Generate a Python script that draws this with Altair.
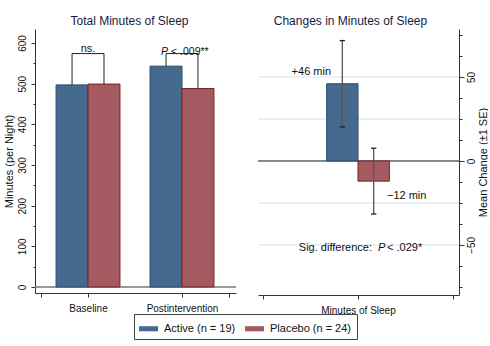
import altair as alt
import pandas as pd

FONT = "Liberation Sans"
TEXT = "#111111"
TITLE_COLOR = "#1a1a3e"
AXIS_COLOR = "#333333"

# ---------------- data ----------------
groups = ["Active (n = 19)", "Placebo (n = 24)"]
fill_colors = ["#466a8d", "#a35b61"]
stroke_colors = ["#2a4a6c", "#7d1f27"]

timepoints = ["Baseline", "Postintervention"]
active_minutes = [497, 543]
placebo_minutes = [499, 488]
bracket_top = [574, 574]

change_category = "Minutes of Sleep"
change_mean = [46, -12]
change_se = [25.7, 19.6]
change_labels = ["+46 min", "\u221212 min"]

left_ticks = list(range(0, 650, 50))
right_ticks = [v / 2 for v in range(-150, 151, 25)]
right_grid = [-50, -25, 25, 50]

# ---------------- left panel tables ----------------
BW = 0.68
bars_l, brackets = [], []
for i, tp in enumerate(timepoints):
    c = 1 + 2 * i
    a, p = active_minutes[i], placebo_minutes[i]
    bars_l.append(dict(grp=groups[0], x=c - BW, x2=c, y=0, y2=a))
    bars_l.append(dict(grp=groups[1], x=c, x2=c + BW, y=0, y2=p))
    ca, cp = c - BW / 2, c + BW / 2
    top = bracket_top[i]
    brackets += [dict(x=ca, x2=cp, y=top, y2=top),
                 dict(x=ca, x2=ca, y=a, y2=top),
                 dict(x=cp, x2=cp, y=p, y2=top)]
bars_l = pd.DataFrame(bars_l)
brackets = pd.DataFrame(brackets)

color_scale = alt.Scale(domain=groups, range=fill_colors)
stroke_scale = alt.Scale(domain=groups, range=stroke_colors)

legend = alt.Legend(
    orient="none", legendX=99, legendY=285, direction="horizontal", title=None,
    symbolType="M-1,-0.27L1,-0.27L1,0.27L-1,0.27Z", symbolSize=361,
    symbolStrokeWidth=0, labelFont=FONT, labelFontSize=11, labelColor=TEXT,
    columnPadding=9, labelOffset=6, padding=5, strokeColor="#444444",
    fillColor="white", symbolOpacity=1,
)

lx_expr = (f"datum.value == 1 ? '{timepoints[0]}' : "
           f"datum.value == 3 ? '{timepoints[1]}' : ''")

left_x = alt.X("x:Q", title=None,
               scale=alt.Scale(domain=[-0.128, 4.149], nice=False, zero=False),
               axis=alt.Axis(values=[0, 1, 3, 4], labelExpr=lx_expr, grid=False,
                             tickSize=4, labelPadding=6, labelFontSize=10,
                             labelFont=FONT, labelColor=TEXT, domainColor=AXIS_COLOR,
                             tickColor=AXIS_COLOR, labelFlush=False))
left_y = alt.Y("y:Q", title="Minutes (per Night)",
               scale=alt.Scale(domain=[-14.75, 634.4], nice=False, zero=False),
               axis=alt.Axis(values=left_ticks,
                             labelExpr="datum.value % 100 === 0 ? datum.label : ''",
                             tickSize={"condition": {"test": "datum.value % 100 === 0", "value": 4}, "value": 2},
                             labelAngle=270, labelAlign="center", labelBaseline="bottom",
                             labelPadding=4, labelFontSize=10, labelFont=FONT,
                             labelColor=TEXT, grid=False, domainColor=AXIS_COLOR,
                             tickColor=AXIS_COLOR, titleFont=FONT, titleFontSize=11,
                             titleFontWeight="normal", titleColor=TEXT, titlePadding=3,
                             labelFlush=False))

zero_l = alt.Chart(pd.DataFrame({"y": [0]})).mark_rule(color="#777777", strokeWidth=1.5).encode(y=left_y)
bar_l = alt.Chart(bars_l).mark_bar(strokeWidth=1, opacity=1).encode(
    x=left_x, x2="x2:Q", y=left_y, y2="y2:Q",
    fill=alt.Fill("grp:N", scale=color_scale, legend=legend),
    stroke=alt.Stroke("grp:N", scale=stroke_scale, legend=None),
)
br_l = alt.Chart(brackets).mark_rule(color="#222222", strokeWidth=1).encode(
    x=left_x, x2="x2:Q", y=left_y, y2="y2:Q")
ns_df = pd.DataFrame({"x": [1], "y": [bracket_top[0]], "t": ["ns."]})
ns_t = alt.Chart(ns_df).mark_text(font=FONT, fontSize=11, baseline="alphabetic", dy=-2,
                                  color=TEXT).encode(x=left_x, y=left_y, text="t:N")
p_df = pd.DataFrame({"x": [3], "y": [bracket_top[1]], "a": ["P"], "b": ["< .009**"]})
p_a = alt.Chart(p_df).mark_text(font=FONT, fontSize=10.5, fontStyle="italic", align="right",
                                baseline="alphabetic", dx=-14, dy=1, color=TEXT).encode(
    x=left_x, y=left_y, text="a:N")
p_b = alt.Chart(p_df).mark_text(font=FONT, fontSize=10.5, align="left",
                                baseline="alphabetic", dx=-11, dy=1, color=TEXT).encode(
    x=left_x, y=left_y, text="b:N")

left = alt.layer(zero_l, bar_l, br_l, ns_t, p_a, p_b).properties(
    width=201, height=264,
    title=alt.TitleParams("Total Minutes of Sleep", fontSize=12, fontWeight="normal",
                          font=FONT, color=TITLE_COLOR, frame="group", anchor="middle",
                          dx=-6, offset=-7.5, baseline="alphabetic"))

# ---------------- right panel tables ----------------
BW2 = 0.33
CAP = 0.028
bars_r, err_r, caps_r = [], [], []
for j, g in enumerate(groups):
    x0, x1 = (1 - BW2, 1) if j == 0 else (1, 1 + BW2)
    cx = (x0 + x1) / 2
    m, s = change_mean[j], change_se[j]
    bars_r.append(dict(grp=g, x=x0, x2=x1, y=0, y2=m))
    err_r.append(dict(x=cx, y=m - s, y2=m + s))
    caps_r += [dict(x=cx - CAP, x2=cx + CAP, y=m - s), dict(x=cx - CAP, x2=cx + CAP, y=m + s)]
bars_r = pd.DataFrame(bars_r)
err_r = pd.DataFrame(err_r)
caps_r = pd.DataFrame(caps_r)

rx_expr = f"datum.value == 1 ? '{change_category}' : ''"
right_x = alt.X("x:Q", title=None,
                scale=alt.Scale(domain=[-0.0526, 2.063], nice=False, zero=False),
                axis=alt.Axis(values=[0, 1, 2], labelExpr=rx_expr, grid=False,
                              tickSize=4, labelPadding=6, labelFontSize=10,
                              labelFont=FONT, labelColor=TEXT, domainColor=AXIS_COLOR,
                              tickColor=AXIS_COLOR, labelFlush=False))
right_y = alt.Y("y:Q", title="Mean Change (\u00b11 SE)",
                scale=alt.Scale(domain=[-79.8, 78.6], nice=False, zero=False),
                axis=alt.Axis(orient="right", values=right_ticks,
                              labelExpr="datum.value % 50 === 0 ? datum.label : ''",
                              tickSize={"condition": {"test": "datum.value % 50 === 0", "value": 5}, "value": 3},
                              labelAngle=270, labelAlign="center", labelBaseline="top",
                              labelPadding=2, labelFontSize=10, labelFont=FONT,
                              labelColor=TEXT, grid=False,
                              domainColor=AXIS_COLOR, tickColor=AXIS_COLOR,
                              titleFont=FONT, titleFontSize=11, titleFontWeight="normal",
                              titleColor=TEXT, titleAngle=270, titleBaseline="top",
                              titlePadding=1, labelFlush=False))

grid_r = alt.Chart(pd.DataFrame({"y": right_grid})).mark_rule(color="#d6e3ea", strokeWidth=1).encode(y=right_y)
zero_r = alt.Chart(pd.DataFrame({"y": [0]})).mark_rule(color="#111111", strokeWidth=1).encode(y=right_y)
bar_r = alt.Chart(bars_r).mark_bar(strokeWidth=1, opacity=1).encode(
    x=right_x, x2="x2:Q", y=right_y, y2="y2:Q",
    fill=alt.Fill("grp:N", scale=color_scale, legend=legend),
    stroke=alt.Stroke("grp:N", scale=stroke_scale, legend=None),
)
err_l = alt.Chart(err_r).mark_rule(color="#555555", strokeWidth=1.3).encode(
    x=right_x, y=right_y, y2="y2:Q")
cap_l = alt.Chart(caps_r).mark_rule(color="#222222", strokeWidth=1.3).encode(
    x=right_x, x2="x2:Q", y=right_y)

a_df = pd.DataFrame({"x": [err_r["x"][0]], "y": [change_mean[0]], "t": [change_labels[0]]})
b_df = pd.DataFrame({"x": [err_r["x"][1]], "y": [change_mean[1]], "t": [change_labels[1]]})
lab_a = alt.Chart(a_df).mark_text(font=FONT, fontSize=11, baseline="alphabetic", dx=-31, dy=-9,
                                  color=TEXT).encode(x=right_x, y=right_y, text="t:N")
lab_b = alt.Chart(b_df).mark_text(font=FONT, fontSize=11, baseline="alphabetic", dx=33, dy=18,
                                  color=TEXT).encode(x=right_x, y=right_y, text="t:N")

sig_df = pd.DataFrame({"x": [1], "y": [-50], "a": ["Sig. difference:"], "b": ["P"], "c": ["< .029*"]})
sig_a = alt.Chart(sig_df).mark_text(font=FONT, fontSize=11, align="right", baseline="alphabetic",
                                    dx=14, dy=6, color=TEXT).encode(x=right_x, y=right_y, text="a:N")
sig_b = alt.Chart(sig_df).mark_text(font=FONT, fontSize=11, fontStyle="italic", align="left",
                                    baseline="alphabetic", dx=20, dy=6, color=TEXT).encode(
    x=right_x, y=right_y, text="b:N")
sig_c = alt.Chart(sig_df).mark_text(font=FONT, fontSize=11, align="left", baseline="alphabetic",
                                    dx=29, dy=6, color=TEXT).encode(x=right_x, y=right_y, text="c:N")

right = alt.layer(grid_r, zero_r, bar_r, err_l, cap_l, lab_a, lab_b, sig_a, sig_b, sig_c).properties(
    width=201, height=266,
    title=alt.TitleParams("Changes in Minutes of Sleep", fontSize=12, fontWeight="normal",
                          font=FONT, color=TITLE_COLOR, frame="group", anchor="middle",
                          dx=-8, offset=-7.5, baseline="alphabetic"))

chart = alt.hconcat(left, right, spacing=20).properties(
    padding={"left": 3, "top": 14, "right": 0, "bottom": 0},
    background="white",
).configure(font=FONT).configure_view(stroke=None)

chart.save("out.html", embed_options={"renderer": "svg", "actions": False})
